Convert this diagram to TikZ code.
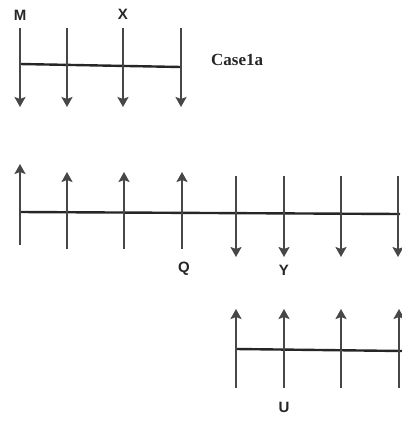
\documentclass[tikz,border=0pt]{standalone}
\usepackage{fontspec}
\setmainfont{Liberation Serif}
\newfontfamily\labelfont{Liberation Sans}
\usetikzlibrary{arrows.meta}
\tikzset{
	beam/.style={line width=2.4pt, color=black!85},
	force/.style={line width=2pt, color=black!72, -{Stealth[length=10pt,width=11pt,inset=2pt]}},
	pointlabel/.style={font=\labelfont\bfseries\fontsize{15}{15}\selectfont, text=black!85, inner sep=0pt}
}

\begin{document}
\begin{tikzpicture}[x=1pt, y=-1pt]
			%%%%% START %%%%%
			\useasboundingbox (0, 0) rectangle (402, 421);
			
			% case 1a
			\draw[beam] (20, 64) -- (181, 67);
			\draw[force] (20, 28) -- (20, 107);
			\draw[force] (67, 28) -- (67, 107);
			\draw[force] (123, 28) -- (123, 107);
			\draw[force] (181, 28) -- (181, 107);
			\node[pointlabel] (m) at (20, 15) {M};
			\node[pointlabel] (x) at (123, 14) {X};
			\node[font=\bfseries\fontsize{17}{17}\selectfont, text=black!85, anchor=west, inner sep=0pt] (case) at (211, 60) {Case1a};
			
			% middle beam
			\draw[beam] (20, 212) -- (400, 214);
			\draw[force] (20, 245) -- (20, 164);
			\draw[force] (67, 249) -- (67, 172);
			\draw[force] (124, 249) -- (124, 172);
			\draw[force] (182, 249) -- (182, 172);
			\draw[force] (236, 176) -- (236, 257);
			\draw[force] (284, 176) -- (284, 257);
			\draw[force] (341, 176) -- (341, 257);
			\draw[force] (398, 176) -- (398, 257);
			\node[pointlabel] (q) at (184, 269) {Q};
			\node[pointlabel] (y) at (284, 270) {Y};
			
			% lower beam
			\draw[beam] (236, 349) -- (402, 351);
			\draw[force] (236, 388) -- (236, 309);
			\draw[force] (284, 388) -- (284, 309);
			\draw[force] (341, 388) -- (341, 309);
			\draw[force] (399, 388) -- (399, 309);
			\node[pointlabel] (u) at (284, 407) {U};
			
			%%%%% END %%%%%
\end{tikzpicture}
\end{document}
